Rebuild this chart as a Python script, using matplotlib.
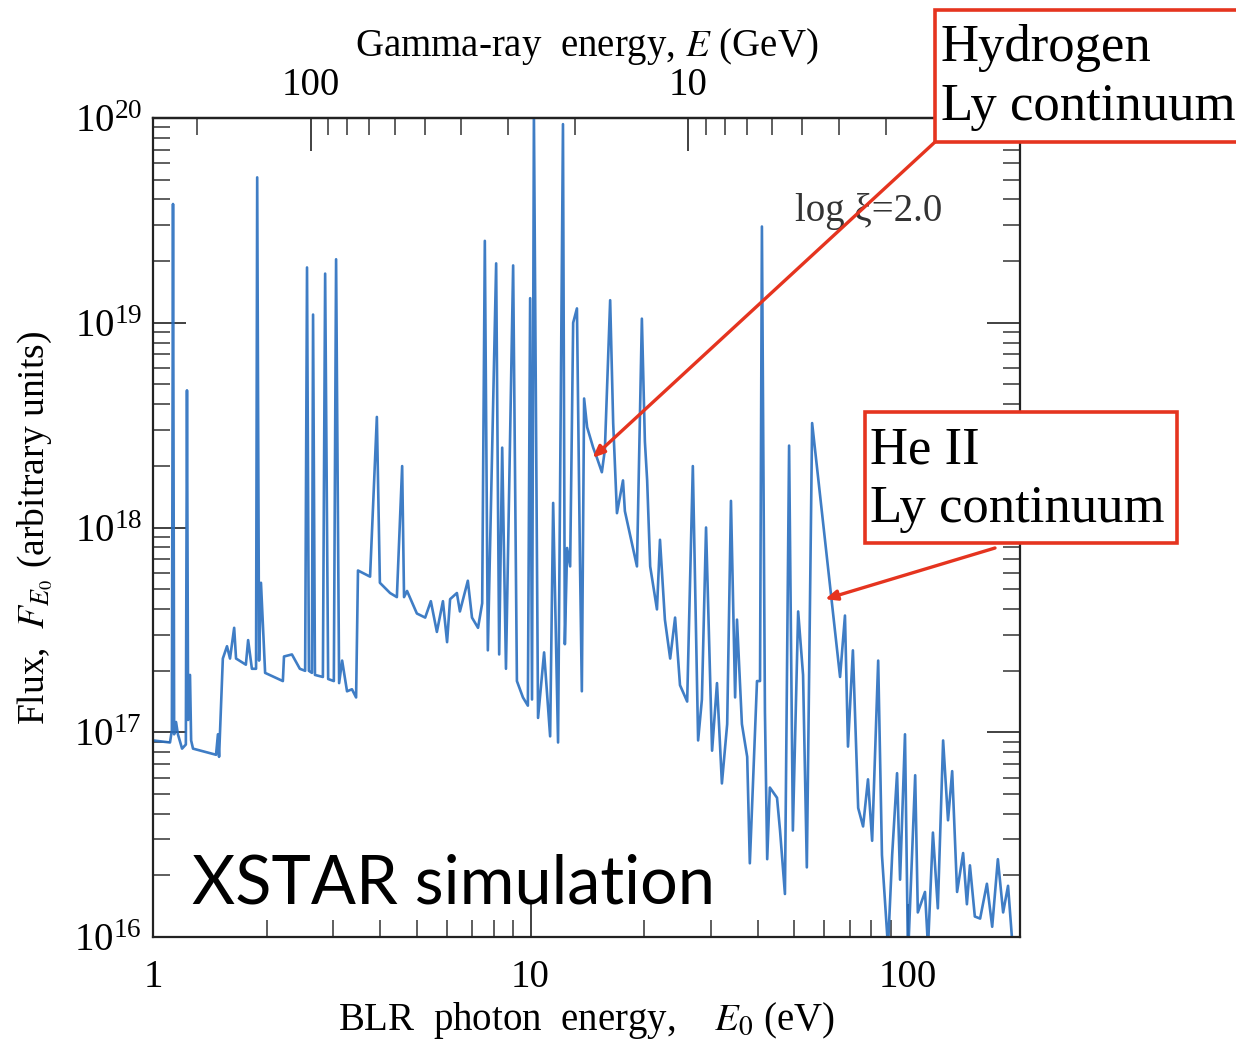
import matplotlib
matplotlib.use("Agg")
import matplotlib.pyplot as plt
import matplotlib.patches as mpatches
from matplotlib.ticker import FixedLocator, FixedFormatter, NullFormatter
import numpy as np

# spectrum, in log10 units (E0 in eV, flux arbitrary)
log_e0 = [
    0.000, 0.045, 0.050, 0.053, 0.056, 0.061, 0.066, 0.077, 0.087, 0.090,
    0.093, 0.098, 0.101, 0.106, 0.167, 0.172, 0.175, 0.185, 0.196, 0.204,
    0.215, 0.220, 0.246, 0.252, 0.262, 0.273, 0.276, 0.281, 0.286, 0.297,
    0.344, 0.347, 0.368, 0.389, 0.403, 0.408, 0.413, 0.421, 0.424, 0.429,
    0.450, 0.456, 0.464, 0.479, 0.485, 0.493, 0.501, 0.514, 0.527, 0.538,
    0.543, 0.575, 0.593, 0.601, 0.628, 0.646, 0.660, 0.665, 0.673, 0.699,
    0.721, 0.736, 0.752, 0.768, 0.779, 0.787, 0.805, 0.813, 0.834, 0.845,
    0.861, 0.872, 0.879, 0.887, 0.909, 0.917, 0.925, 0.935, 0.954, 0.964,
    0.980, 0.993, 0.999, 1.004, 1.009, 1.020, 1.036, 1.052, 1.060, 1.073,
    1.086, 1.091, 1.097, 1.105, 1.113, 1.123, 1.131, 1.136, 1.142, 1.150,
    1.166, 1.176, 1.189, 1.197, 1.211, 1.219, 1.229, 1.245, 1.250, 1.269,
    1.282, 1.295, 1.303, 1.309, 1.317, 1.335, 1.343, 1.356, 1.370, 1.383,
    1.396, 1.415, 1.430, 1.444, 1.454, 1.465, 1.481, 1.494, 1.507, 1.521,
    1.531, 1.542, 1.547, 1.560, 1.574, 1.581, 1.600, 1.608, 1.613, 1.621,
    1.627, 1.634, 1.653, 1.661, 1.674, 1.685, 1.695, 1.709, 1.722, 1.732,
    1.746, 1.783, 1.820, 1.833, 1.841, 1.854, 1.868, 1.881, 1.894, 1.905,
    1.921, 1.931, 1.947, 1.958, 1.971, 1.979, 1.992, 2.000, 2.019, 2.026,
    2.045, 2.053, 2.066, 2.079, 2.093, 2.106, 2.117, 2.130, 2.146, 2.156,
    2.164, 2.177, 2.191, 2.209, 2.223, 2.238, 2.252, 2.265, 2.276,
]
log_flux = [
    16.96, 16.95, 17.01, 19.58, 16.99, 17.05, 16.99, 16.92, 16.94, 18.67,
    17.06, 17.28, 16.96, 16.92, 16.89, 16.99, 16.88, 17.36, 17.42, 17.36,
    17.51, 17.36, 17.33, 17.45, 17.31, 17.31, 19.71, 17.35, 17.73, 17.29,
    17.25, 17.37, 17.38, 17.31, 17.30, 19.27, 17.30, 17.29, 19.04, 17.28,
    17.27, 19.24, 17.26, 17.25, 19.31, 17.24, 17.35, 17.20, 17.21, 17.17,
    17.79, 17.76, 18.54, 17.73, 17.68, 17.66, 18.30, 17.66, 17.69, 17.58,
    17.56, 17.64, 17.49, 17.64, 17.44, 17.65, 17.68, 17.59, 17.74, 17.56,
    17.51, 17.63, 19.40, 17.40, 19.29, 17.38, 18.39, 17.31, 19.28, 17.25,
    17.17, 17.13, 19.12, 17.16, 20.02, 17.07, 17.39, 16.98, 18.12, 16.95,
    19.97, 17.43, 17.90, 17.81, 19.00, 19.07, 17.84, 17.20, 18.63, 18.49,
    18.39, 18.34, 18.27, 18.38, 19.11, 18.51, 18.07, 18.23, 18.08, 17.92,
    17.81, 19.02, 18.42, 18.23, 17.81, 17.60, 17.94, 17.55, 17.36, 17.56,
    17.23, 17.15, 18.30, 16.96, 17.16, 18.00, 16.91, 17.24, 16.75, 17.04,
    18.13, 17.17, 17.55, 17.04, 16.88, 16.36, 17.25, 17.25, 19.47, 17.10,
    16.38, 16.73, 16.68, 16.52, 16.21, 18.40, 16.52, 17.59, 17.28, 16.34,
    18.51, 17.89, 17.27, 17.57, 16.93, 17.40, 16.63, 16.54, 16.77, 16.47,
    17.35, 16.40, 15.95, 16.40, 16.80, 16.28, 16.99, 15.90, 16.79, 16.12,
    16.22, 15.95, 16.51, 16.14, 16.96, 16.57, 16.81, 16.22, 16.41, 16.16,
    16.35, 16.10, 16.09, 16.26, 16.05, 16.38, 16.12, 16.25, 15.98,
]

e0 = 10.0 ** np.array(log_e0)
flux = 10.0 ** np.array(log_flux)

# threshold product E * E0 for pair production (GeV eV)
THRESH = 262.0
e0_ticks = [1, 10, 100]
e0_labels = ["1", "10", "100"]
gamma_ticks = [10, 100]
gamma_labels = ["10", "100"]

LINE_BLUE = "#2a6fbf"
RED = "#e5341f"
SERIF = "Liberation Serif"

plt.rcParams["font.family"] = SERIF
plt.rcParams["mathtext.fontset"] = "stix"

fig = plt.figure(figsize=(12.36, 10.44), dpi=100)
ax = fig.add_axes([153 / 1236, 1 - 937 / 1044, 867 / 1236, 819 / 1044])

ax.plot(e0, flux, color=LINE_BLUE, lw=1.9, alpha=0.9)
ax.set_xscale("log")
ax.set_yscale("log")
ax.set_xlim(1, 198)
ax.set_ylim(1e16, 1e20)
ax.xaxis.set_major_locator(FixedLocator(e0_ticks))
ax.xaxis.set_major_formatter(FixedFormatter(e0_labels))
ax.xaxis.set_minor_formatter(NullFormatter())

for sp in ax.spines.values():
    sp.set_linewidth(1.6)
    sp.set_color("#222222")

ax.tick_params(which="both", direction="in", top=False, right=True,
               colors="#333333", labelcolor="black", labelsize=28)
ax.tick_params(which="major", length=24, width=1.3)
ax.tick_params(which="minor", length=12, width=1.1)
ax.tick_params(axis="x", which="major", pad=16)
ax.tick_params(axis="y", which="major", pad=8)

ax.set_xlabel(r"BLR  photon  energy,    $E_0$ (eV)", fontsize=28, labelpad=3)
ax.set_ylabel(r"Flux,  $F_{E_0}$ (arbitrary units)", fontsize=27, labelpad=14)

sec = ax.secondary_xaxis("top", functions=(lambda x: THRESH / x, lambda x: THRESH / x))
sec.xaxis.set_major_locator(FixedLocator(gamma_ticks))
sec.xaxis.set_major_formatter(FixedFormatter(gamma_labels))
sec.xaxis.set_minor_formatter(NullFormatter())
sec.tick_params(which="both", direction="in", colors="#333333", labelcolor="black",
                labelsize=28)
sec.tick_params(which="major", length=24, width=1.3, pad=10)
sec.tick_params(which="minor", length=12, width=1.1)
sec.spines["top"].set_linewidth(1.6)
sec.set_xlabel(r"Gamma-ray  energy, $E$ (GeV)", fontsize=28, labelpad=8)

ax.text(795 / 1236, 1 - 212 / 1044, "log ξ=2.0", transform=fig.transFigure,
        fontsize=28, va="center", ha="left", color="#333333")

ax.text(192 / 1236, 1 - 903 / 1044, "XSTAR simulation", transform=fig.transFigure,
        fontsize=48, family="Lato", va="baseline", ha="left", color="black")

# annotation boxes
h_box = mpatches.Rectangle((935 / 1236, 1 - 142 / 1044), 320 / 1236, 132 / 1044,
                           transform=fig.transFigure, fill=True, facecolor="white",
                           edgecolor=RED, lw=2.6, clip_on=False)
fig.patches.append(h_box)
fig.text(941 / 1236, 1 - 24 / 1044, "Hydrogen\nLy continuum", fontsize=38,
         va="top", ha="left", linespacing=1.3)

he_box = mpatches.Rectangle((865 / 1236, 1 - 543 / 1044), 312 / 1236, 131 / 1044,
                            transform=fig.transFigure, fill=True, facecolor="white",
                            edgecolor=RED, lw=2.6, clip_on=False)
fig.patches.append(he_box)
fig.text(870 / 1236, 1 - 426 / 1044, "He II\nLy continuum", fontsize=38,
         va="top", ha="left", linespacing=1.3)

arrow_kw = dict(arrowstyle="-|>,head_length=0.7,head_width=0.3", color=RED, lw=2.4,
                shrinkA=0, shrinkB=0)
ax.annotate("", xy=(14.6, 10 ** 18.34), xycoords="data",
            xytext=(935, 1044 - 142), textcoords="figure pixels",
            arrowprops=arrow_kw, annotation_clip=False)
ax.annotate("", xy=(60.3, 10 ** 17.65), xycoords="data",
            xytext=(995, 1044 - 548), textcoords="figure pixels",
            arrowprops=arrow_kw, annotation_clip=False)

fig.savefig("out.png", dpi=100, facecolor="white")
